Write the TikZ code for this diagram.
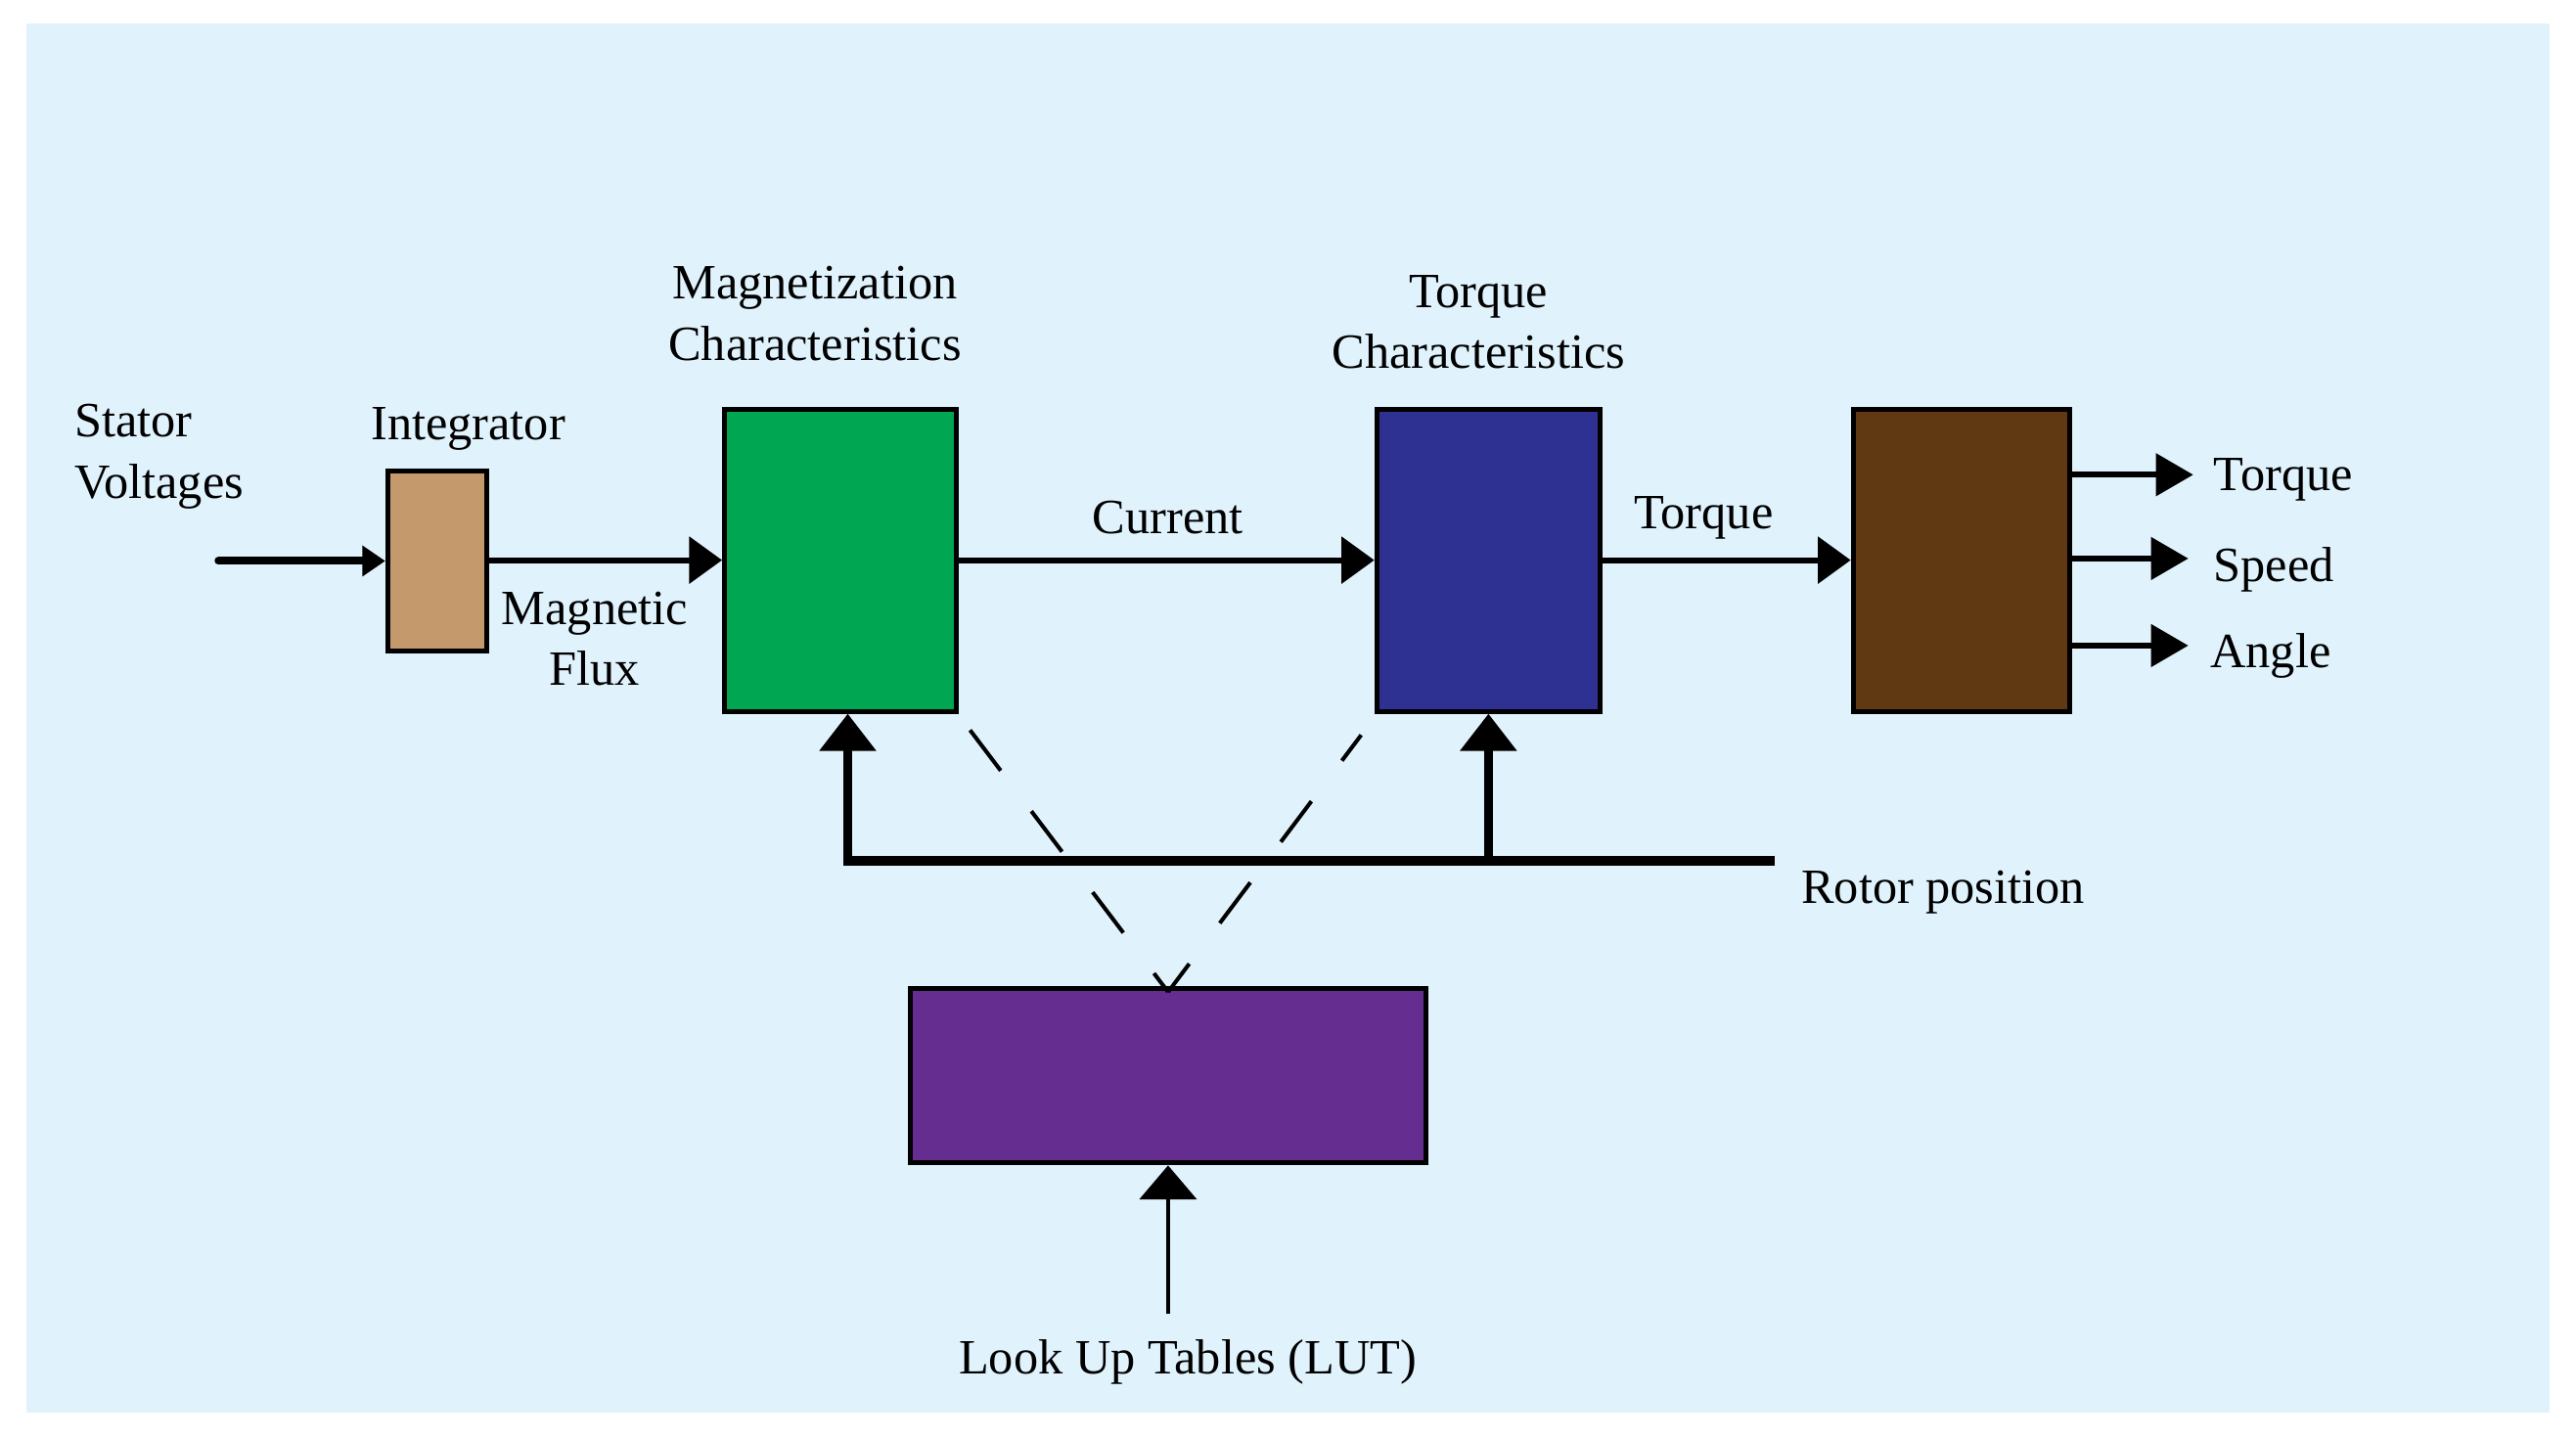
\documentclass[tikz,border=0pt]{standalone}
\usepackage{fontspec}
\setmainfont{Liberation Serif}
\usetikzlibrary{arrows.meta}

\definecolor{bgblue}{RGB}{224,242,252}
\definecolor{integtan}{RGB}{196,154,108}
\definecolor{magngreen}{RGB}{0,166,81}
\definecolor{torqblue}{RGB}{46,49,146}
\definecolor{mechbrown}{RGB}{96,57,19}
\definecolor{lutpurple}{RGB}{102,45,145}

\tikzset{every picture/.style={line width=0.75pt}}

\begin{document}
\begin{tikzpicture}[x=0.75pt,y=0.75pt,yscale=-1,xscale=1,
  blk/.style={draw, line width=2.2pt, inner sep=0pt},
  lbl/.style={inner sep=0.75pt, font=\fontsize{22.5}{28}\selectfont, align=center},
  sig/.style={line width=2.7pt, -{Triangle[length=15pt,width=21pt]}},
  outsig/.style={line width=2.7pt, -{Triangle[length=17pt,width=19pt]}},
  rotorline/.style={line width=4.2pt},
  rotorsig/.style={line width=4.2pt, -{Triangle[length=17pt,width=25pt]}},
  dashline/.style={line width=1.8pt, dash pattern=on 23.2pt off 23.2pt}]
%set diagram size: 1568 x 875
\useasboundingbox (0,0) rectangle (1568,875);
\fill[white] (0,0) rectangle (1568,875);
\fill[bgblue] (16,14) rectangle (1552,860);

%Shape: Rectangle [integrator]
\node[blk, fill=integtan, minimum width=45pt, minimum height=82.5pt] (integ) at (266,341.5) {};
%Shape: Rectangle [magnetization]
\node[blk, fill=magngreen, minimum width=105.75pt, minimum height=138pt] (magchar) at (511.5,341) {};
%Shape: Rectangle [torque]
\node[blk, fill=torqblue, minimum width=102pt, minimum height=138pt] (torqchar) at (906,341) {};
%Shape: Rectangle [mechanics]
\node[blk, fill=mechbrown, minimum width=99pt, minimum height=138pt] (mech) at (1194,341) {};
%Shape: Rectangle [look up tables]
\node[blk, fill=lutpurple, minimum width=235.5pt, minimum height=79.5pt] (lut) at (711,655) {};

%Free ends
\coordinate (vin) at (133,341.5);
\coordinate (outT) at (1335,289);
\coordinate (outS) at (1332,340);
\coordinate (outA) at (1332,393);
\coordinate (rotor) at (1080,524);
\coordinate (lutsrc) at (711,800);
\coordinate (mcin) at ([xshift=3.4pt]magchar.south);
\coordinate (mcdash) at ([shift={(7,10)}]magchar.south east);
\coordinate (tcdash) at ([shift={(-8,13)}]torqchar.south west);
\coordinate (lutin) at ([yshift=2.5pt]lut.north);

%Straight Lines [signal path]
\draw[line width=3.6pt, -{Triangle[length=10.5pt,width=13.5pt]}, line cap=round] (vin) -- (integ.west);
\draw[sig] (integ.east |- magchar.west) -- (magchar.west);
\draw[sig] (magchar.east) -- (torqchar.west);
\draw[sig] (torqchar.east) -- (mech.west);
\draw[outsig] (mech.east |- outT) -- (outT);
\draw[outsig] (mech.east |- outS) -- (outS);
\draw[outsig] (mech.east |- outA) -- (outA);

%Straight Lines [rotor position]
\draw[rotorline] (rotor) -- ([xshift=-2.1pt]mcin |- rotor);
\draw[rotorsig] ([yshift=2.1pt]mcin |- rotor) -- (mcin);
\draw[rotorsig] (torqchar.south |- rotor) -- (torqchar.south);

%Dashed Lines [to LUT]
\draw[dashline] (mcdash) -- (lutin);
\draw[dashline, dash phase=7.1pt] (lutin) -- (tcdash);

%Straight Lines [LUT input]
\draw[line width=1.5pt, -{Triangle[length=15.5pt,width=26pt]}] (lutsrc) -- (lut.south);

% Text Node
\node[lbl, align=left, anchor=west] (statorlbl) at (44,278) {Stator\\Voltages};
% Text Node
\node[lbl] (integlbl) at (285,261) {Integrator};
% Text Node
\node[lbl] (fluxlbl) at (362,389) {Magnetic\\Flux};
% Text Node
\node[lbl] (magnlbl) at (496,191) {Magnetization\\Characteristics};
% Text Node
\node[lbl] (torqlbl) at (900,196) {Torque\\Characteristics};
% Text Node
\node[lbl] (curlbl) at (711,315) {Current};
% Text Node
\node[lbl] (tqlbl) at (1037,315) {Torque};
% Text Node
\node[lbl, anchor=west] (outTlbl) at (1346,292) {Torque};
% Text Node
\node[lbl, anchor=west] (outSlbl) at (1346,347) {Speed};
% Text Node
\node[lbl, anchor=west] (outAlbl) at (1344,399) {Angle};
% Text Node
\node[lbl, anchor=west] (rotorlbl) at (1095,543) {Rotor position};
% Text Node
\node[lbl] (lutlbl) at (723,829) {Look Up Tables (LUT)};

\end{tikzpicture}
\end{document}
